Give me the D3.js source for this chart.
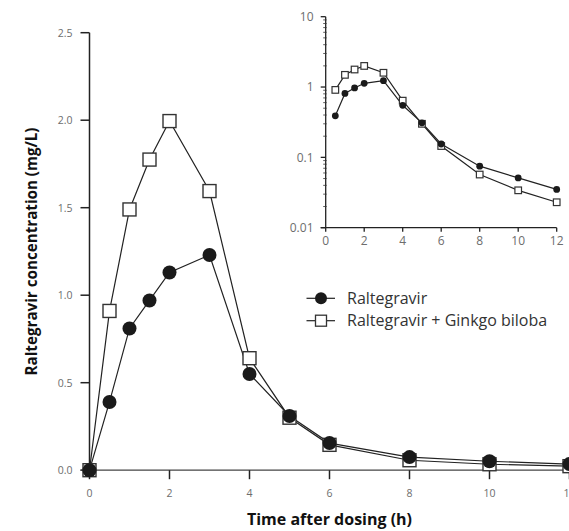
<!DOCTYPE html>
<html><head><meta charset="utf-8">
<script src="https://cdn.jsdelivr.net/npm/d3@7"></script>
<style>body{margin:0;background:#fff}svg{display:block}</style>
</head><body>
<svg id="c" width="569" height="531"></svg>
<script>
const times = [0, 0.5, 1, 1.5, 2, 3, 4, 5, 6, 8, 10, 12];
const raltegravir = [0, 0.39, 0.81, 0.97, 1.13, 1.23, 0.55, 0.31, 0.155, 0.075, 0.051, 0.035];
const ginkgo = [0, 0.91, 1.49, 1.775, 1.995, 1.595, 0.64, 0.30, 0.145, 0.057, 0.034, 0.023];
const seriesNames = ["Raltegravir", "Raltegravir + Ginkgo biloba"];
const mainXTicks = [0, 2, 4, 6, 8, 10, 12];
const mainYTicks = [0, 0.5, 1.0, 1.5, 2.0, 2.5];
const insetYTicks = [0.01, 0.1, 1, 10];

const svg = d3.select("#c");
const FONT = "'Open Sans', 'Noto Sans', sans-serif";
const tickColor = "#6d6d6d";

// main chart
const x = d3.scaleLinear().domain([0, 12]).range([89.5, 569.5]);
const y = d3.scaleLinear().domain([0, 2.5]).range([470.2, 32.7]);

const g = svg.append("g");
// y axis
g.append("line").attr("x1", x(0)).attr("x2", x(0)).attr("y1", y(2.5)).attr("y2", y(0))
  .attr("stroke", "#222").attr("stroke-width", 1.5);
mainYTicks.forEach(v => {
  g.append("line").attr("x1", x(0) - 9).attr("x2", x(0)).attr("y1", y(v)).attr("y2", y(v))
    .attr("stroke", "#222").attr("stroke-width", 1.5);
  g.append("text").attr("x", x(0) - 17).attr("y", y(v) + 4).attr("text-anchor", "end")
    .attr("font-family", FONT).attr("font-size", 10.5).attr("fill", tickColor)
    .text(d3.format(".1f")(v));
});
// x axis
g.append("line").attr("x1", x(0) - 9).attr("x2", 569).attr("y1", y(0)).attr("y2", y(0))
  .attr("stroke", "#444").attr("stroke-width", 1.3);
mainXTicks.forEach(v => {
  g.append("line").attr("x1", x(v)).attr("x2", x(v)).attr("y1", y(0)).attr("y2", y(0) + 9)
    .attr("stroke", "#222").attr("stroke-width", 1.5);
  g.append("text").attr("x", x(v)).attr("y", y(0) + 27).attr("text-anchor", "middle")
    .attr("font-family", FONT).attr("font-size", 10.5).attr("fill", tickColor).text(v);
});
// axis titles
svg.append("text").attr("x", 329.5).attr("y", 525).attr("text-anchor", "middle")
  .attr("font-family", FONT).attr("font-weight", "bold").attr("font-size", 16).attr("fill", "#111")
  .text("Time after dosing (h)");
svg.append("text").attr("transform", "translate(37,251.5) rotate(-90)").attr("text-anchor", "middle")
  .attr("font-family", FONT).attr("font-weight", "bold").attr("font-size", 15.2).attr("fill", "#111")
  .text("Raltegravir concentration (mg/L)");

const line = d3.line().x(d => x(d[0])).y(d => y(d[1]));
const dA = times.map((t, i) => [t, raltegravir[i]]);
const dB = times.map((t, i) => [t, ginkgo[i]]);
g.append("path").attr("d", line(dB)).attr("fill", "none").attr("stroke", "#222").attr("stroke-width", 1.2);
g.append("path").attr("d", line(dA)).attr("fill", "none").attr("stroke", "#222").attr("stroke-width", 1.2);
dB.forEach(d => {
  g.append("rect").attr("x", x(d[0]) - 6.5).attr("y", y(d[1]) - 6.5).attr("width", 13).attr("height", 13)
    .attr("fill", "#fff").attr("stroke", "#333").attr("stroke-width", 1.4);
});
dA.forEach(d => {
  g.append("circle").attr("cx", x(d[0])).attr("cy", y(d[1])).attr("r", 7).attr("fill", "#1a1a1a");
});

// inset
const xi = d3.scaleLinear().domain([0, 12]).range([325.7, 556.7]);
const yi = d3.scaleLog().domain([0.01, 10]).range([227.7, 16.7]);
const gi = svg.append("g");
gi.append("line").attr("x1", xi(0)).attr("x2", xi(0)).attr("y1", yi(10)).attr("y2", yi(0.01))
  .attr("stroke", "#222").attr("stroke-width", 1.3);
gi.append("line").attr("x1", xi(0) - 5).attr("x2", xi(12)).attr("y1", yi(0.01)).attr("y2", yi(0.01))
  .attr("stroke", "#222").attr("stroke-width", 1.3);
insetYTicks.forEach(v => {
  gi.append("line").attr("x1", xi(0) - 5).attr("x2", xi(0)).attr("y1", yi(v)).attr("y2", yi(v))
    .attr("stroke", "#222").attr("stroke-width", 1.3);
  gi.append("text").attr("x", 313.5).attr("y", yi(v) + 4.3).attr("text-anchor", "end")
    .attr("font-family", FONT).attr("font-size", 12).attr("fill", tickColor)
    .text(String(v));
});
yi.ticks().filter(v => !insetYTicks.includes(v)).forEach(v => {
  gi.append("line").attr("x1", xi(0) - 2.5).attr("x2", xi(0) + 1).attr("y1", yi(v)).attr("y2", yi(v))
    .attr("stroke", "#333").attr("stroke-width", 0.8);
});
mainXTicks.forEach(v => {
  gi.append("line").attr("x1", xi(v)).attr("x2", xi(v)).attr("y1", yi(0.01)).attr("y2", yi(0.01) + 4)
    .attr("stroke", "#222").attr("stroke-width", 1.3);
  gi.append("text").attr("x", xi(v)).attr("y", yi(0.01) + 17).attr("text-anchor", "middle")
    .attr("font-family", FONT).attr("font-size", 12).attr("fill", tickColor).text(v);
});
const linei = d3.line().x(d => xi(d[0])).y(d => yi(d[1]));
const iA = dA.filter(d => d[0] > 0), iB = dB.filter(d => d[0] > 0);
gi.append("path").attr("d", linei(iB)).attr("fill", "none").attr("stroke", "#222").attr("stroke-width", 1.2);
gi.append("path").attr("d", linei(iA)).attr("fill", "none").attr("stroke", "#222").attr("stroke-width", 1.2);
iB.forEach(d => {
  gi.append("rect").attr("x", xi(d[0]) - 3.3).attr("y", yi(d[1]) - 3.3).attr("width", 6.6).attr("height", 6.6)
    .attr("fill", "#fff").attr("stroke", "#333").attr("stroke-width", 1.2);
});
iA.forEach(d => {
  gi.append("circle").attr("cx", xi(d[0])).attr("cy", yi(d[1])).attr("r", 3.4).attr("fill", "#1a1a1a");
});

// legend
const lg = svg.append("g");
[0, 1].forEach(i => {
  const yy = 298.3 + i * 22.4;
  lg.append("line").attr("x1", 306.5).attr("x2", 335).attr("y1", yy).attr("y2", yy)
    .attr("stroke", "#222").attr("stroke-width", 1.2);
  if (i === 0) lg.append("circle").attr("cx", 321).attr("cy", yy).attr("r", 6).attr("fill", "#1a1a1a");
  else lg.append("rect").attr("x", 315.5).attr("y", yy - 5.5).attr("width", 11).attr("height", 11)
    .attr("fill", "#fff").attr("stroke", "#333").attr("stroke-width", 1.3);
  lg.append("text").attr("x", 347).attr("y", yy + 5.5).attr("font-family", FONT).attr("font-size", 16)
    .attr("fill", "#333").text(seriesNames[i]);
});
</script>
</body></html>
